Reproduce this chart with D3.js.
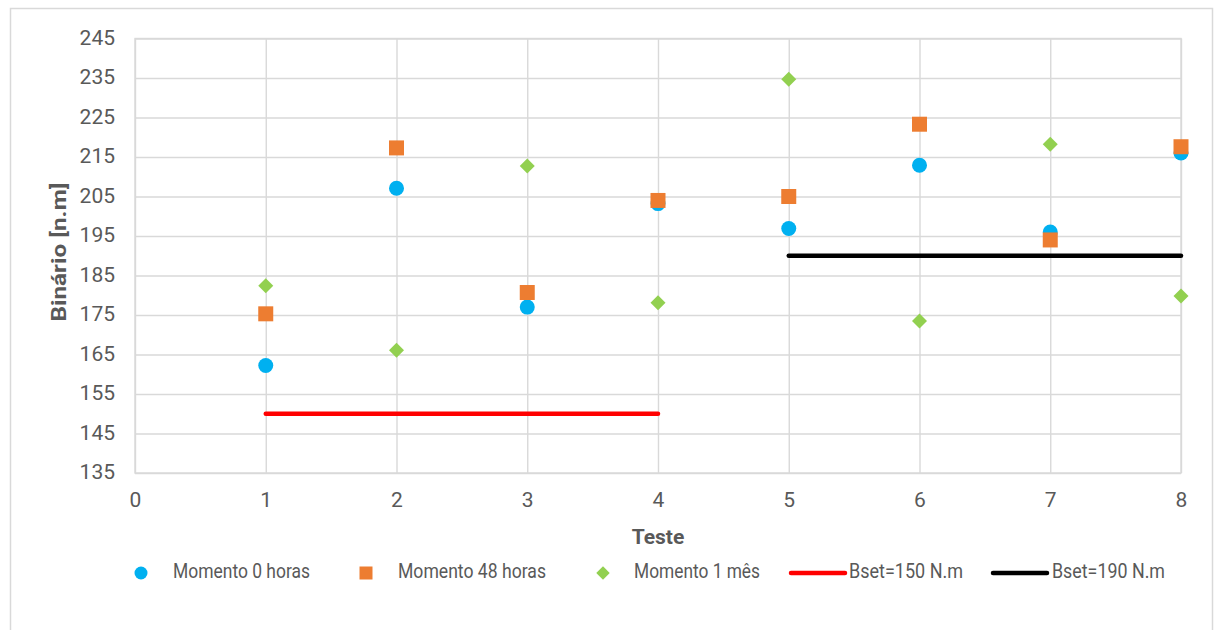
<!DOCTYPE html>
<html>
<head>
<meta charset="utf-8">
<script src="https://cdn.jsdelivr.net/npm/d3@7"></script>
<style>
  html, body { margin: 0; padding: 0; background: #ffffff; }
  svg { display: block; }
  text { font-family: Roboto, "Liberation Sans", sans-serif; }
</style>
</head>
<body>
<svg id="chart" width="1215" height="630"></svg>
<script>
// ---- data ----
const tests = [1, 2, 3, 4, 5, 6, 7, 8];
const momento0h = [162.2, 207.1, 177.0, 203.2, 196.9, 212.9, 196.0, 216.0];
const momento48h = [175.3, 217.3, 180.7, 204.0, 205.0, 223.3, 194.0, 217.6];
const momento1m = [182.4, 166.1, 212.7, 178.1, 234.7, 173.5, 218.2, 179.8];
const bset150X = [1, 4];
const bset150Y = [150, 150];
const bset190X = [5, 8];
const bset190Y = [190, 190];
const xTicks = [0, 1, 2, 3, 4, 5, 6, 7, 8];
const yTicks = [135, 145, 155, 165, 175, 185, 195, 205, 215, 225, 235, 245];
const seriesNames = ["Momento 0 horas", "Momento 48 horas", "Momento 1 mês", "Bset=150 N.m", "Bset=190 N.m"];
const xTitle = "Teste";
const yTitle = "Binário [n.m]";

// ---- layout ----
const svg = d3.select("#chart");
const plot = { left: 135, right: 1181, top: 38.5, bottom: 473 };
const x = d3.scaleLinear().domain([0, 8]).range([plot.left, plot.right]);
const y = d3.scaleLinear().domain([135, 245]).range([plot.bottom, plot.top]);
const gridColor = "#d9d9d9";
const textColor = "#595959";
const colors = { c0: "#00b0f0", c48: "#ed7d31", c1m: "#92d050", r: "#ff0000", k: "#000000" };

// outer frame
svg.append("rect").attr("x", 10.5).attr("y", 8.5).attr("width", 1202).attr("height", 650)
  .attr("fill", "#fff").attr("stroke", gridColor).attr("stroke-width", 1.5);

// grid via axes
const gx = svg.append("g").attr("transform", `translate(0,${plot.bottom})`)
  .call(d3.axisBottom(x).tickValues(xTicks).tickSize(-(plot.bottom - plot.top)).tickFormat(""));
const gy = svg.append("g").attr("transform", `translate(${plot.left},0)`)
  .call(d3.axisLeft(y).tickValues(yTicks).tickSize(-(plot.right - plot.left)).tickFormat(""));
[gx, gy].forEach(g => {
  g.select(".domain").remove();
  g.selectAll(".tick line").attr("stroke", gridColor).attr("stroke-width", 1.4);
});
// plot border
svg.append("rect").attr("x", plot.left).attr("y", plot.top)
  .attr("width", plot.right - plot.left).attr("height", plot.bottom - plot.top)
  .attr("fill", "none").attr("stroke", gridColor).attr("stroke-width", 1.4);

// tick labels
const xl = svg.append("g").attr("transform", `translate(0,${plot.bottom + 28})`)
  .call(d3.axisBottom(x).tickValues(xTicks).tickSize(0).tickFormat(d3.format("d")));
xl.select(".domain").remove();
xl.selectAll("text").attr("fill", textColor).style("font-size", "21px").attr("dy", "0").attr("y", 0)
  .attr("dominant-baseline", "middle");
const yl = svg.append("g").attr("transform", `translate(${plot.left - 20},0)`)
  .call(d3.axisLeft(y).tickValues(yTicks).tickSize(0).tickFormat(d3.format("d")));
yl.select(".domain").remove();
yl.selectAll("text").attr("fill", textColor).style("font-size", "21px").attr("dy", "0").attr("x", 0)
  .attr("dominant-baseline", "middle");

// axis titles
svg.append("text").attr("x", 658).attr("y", 538)
  .attr("text-anchor", "middle").attr("dominant-baseline", "middle")
  .attr("fill", textColor).style("font-size", "21px").style("font-weight", "bold").text(xTitle);
svg.append("text").attr("transform", `translate(60,${252}) rotate(-90)`)
  .attr("text-anchor", "middle").attr("dominant-baseline", "middle")
  .attr("textLength", 139).attr("lengthAdjust", "spacingAndGlyphs")
  .attr("fill", textColor).style("font-size", "21px").style("font-weight", "bold").text(yTitle);

// lines
const line = d3.line().x(d => x(d[0])).y(d => y(d[1]));
svg.append("path").datum(d3.zip(bset150X, bset150Y)).attr("d", line)
  .attr("fill", "none").attr("stroke", colors.r).attr("stroke-width", 4.5).attr("stroke-linecap", "round");
svg.append("path").datum(d3.zip(bset190X, bset190Y)).attr("d", line)
  .attr("fill", "none").attr("stroke", colors.k).attr("stroke-width", 4.5).attr("stroke-linecap", "round");

// markers
const circleSym = d3.symbol().type(d3.symbolCircle).size(Math.PI * 7.5 * 7.5);
const squareSym = d3.symbol().type(d3.symbolSquare).size(15 * 15);
const diamondSym = d3.symbol().type(d3.symbolSquare).size(10.6 * 10.6);

svg.append("g").selectAll("path").data(d3.zip(tests, momento0h)).join("path")
  .attr("d", circleSym).attr("transform", d => `translate(${x(d[0])},${y(d[1])})`).attr("fill", colors.c0);
svg.append("g").selectAll("path").data(d3.zip(tests, momento48h)).join("path")
  .attr("d", squareSym).attr("transform", d => `translate(${x(d[0])},${y(d[1])})`).attr("fill", colors.c48);
svg.append("g").selectAll("path").data(d3.zip(tests, momento1m)).join("path")
  .attr("d", diamondSym).attr("transform", d => `translate(${x(d[0])},${y(d[1])}) rotate(45)`).attr("fill", colors.c1m);

// legend
const ly = 573;
const leg = svg.append("g");
const legItems = [
  { kind: "circle", cx: 141, tx: 173, w: 137, color: colors.c0 },
  { kind: "square", cx: 366, tx: 398, w: 148, color: colors.c48 },
  { kind: "diamond", cx: 603, tx: 634, w: 126, color: colors.c1m },
  { kind: "line", x1: 791, x2: 845, tx: 849, w: 114, color: colors.r },
  { kind: "line", x1: 993, x2: 1047, tx: 1052, w: 113, color: colors.k }
];
legItems.forEach((it, i) => {
  if (it.kind === "circle") {
    leg.append("path").attr("d", d3.symbol().type(d3.symbolCircle).size(Math.PI * 6.5 * 6.5))
      .attr("transform", `translate(${it.cx},${ly})`).attr("fill", it.color);
  } else if (it.kind === "square") {
    leg.append("path").attr("d", d3.symbol().type(d3.symbolSquare).size(13 * 13))
      .attr("transform", `translate(${it.cx},${ly})`).attr("fill", it.color);
  } else if (it.kind === "diamond") {
    leg.append("path").attr("d", d3.symbol().type(d3.symbolSquare).size(9.5 * 9.5))
      .attr("transform", `translate(${it.cx},${ly}) rotate(45)`).attr("fill", it.color);
  } else {
    leg.append("line").attr("x1", it.x1).attr("x2", it.x2).attr("y1", ly).attr("y2", ly)
      .attr("stroke", it.color).attr("stroke-width", 4.5).attr("stroke-linecap", "round");
  }
  leg.append("text").attr("x", it.tx).attr("y", ly).attr("dominant-baseline", "middle")
    .attr("textLength", it.w).attr("lengthAdjust", "spacingAndGlyphs")
    .attr("fill", textColor).style("font-size", "20px").text(seriesNames[i]);
});
</script>
</body>
</html>
